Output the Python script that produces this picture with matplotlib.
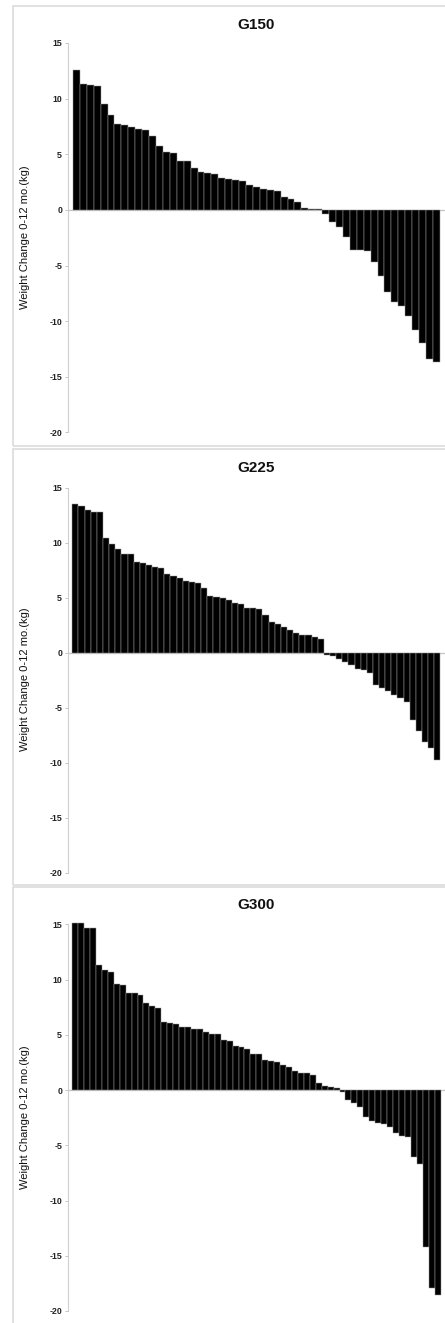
import matplotlib
matplotlib.use("Agg")
import matplotlib.pyplot as plt
from matplotlib.patches import Rectangle

plt.rcParams["font.family"] = ["Liberation Sans", "DejaVu Sans"]
plt.rcParams["axes.unicode_minus"] = False

# weight change 0-12 months (kg), one bar per subject, sorted high to low
g150 = [12.6, 11.3, 11.2, 11.1, 9.5, 8.55, 7.75, 7.65, 7.45, 7.25, 7.15, 6.6, 5.7,
        5.2, 5.1, 4.4, 4.4, 3.75, 3.4, 3.35, 3.2, 2.85, 2.8, 2.65, 2.6, 2.2, 2.1,
        1.9, 1.8, 1.7, 1.2, 1.0, 0.75, 0.2, 0.1, 0.1,
        -0.4, -1.05, -1.55, -2.4, -3.6, -3.6, -3.7, -4.7, -5.9, -7.4, -8.3, -8.6,
        -9.5, -10.8, -12.0, -13.4, -13.7]
g225 = [13.5, 13.3, 13.0, 12.8, 12.8, 10.45, 9.9, 9.45, 9.0, 8.95, 8.25, 8.2,
        7.95, 7.75, 7.7, 7.2, 7.0, 6.8, 6.55, 6.4, 6.3, 5.85, 5.15, 5.1, 4.95,
        4.75, 4.55, 4.4, 4.1, 4.1, 3.95, 3.45, 2.8, 2.6, 2.3, 2.05, 1.75, 1.65,
        1.65, 1.4, 1.25,
        -0.25, -0.3, -0.55, -0.8, -1.15, -1.5, -1.6, -1.85, -2.9, -3.2, -3.45,
        -3.85, -4.15, -4.45, -6.1, -7.15, -8.1, -8.65, -9.75]
g300 = [15.15, 15.15, 14.7, 14.7, 11.3, 10.9, 10.65, 9.6, 9.55, 8.8, 8.75, 8.6,
        7.9, 7.6, 7.4, 6.15, 6.05, 6.0, 5.7, 5.7, 5.55, 5.5, 5.25, 5.1, 5.05,
        4.5, 4.4, 3.95, 3.85, 3.7, 3.3, 3.3, 2.7, 2.65, 2.5, 2.3, 2.1, 1.75,
        1.55, 1.55, 1.35, 0.6, 0.4, 0.3, 0.15,
        -0.2, -0.9, -1.2, -1.5, -2.4, -2.8, -2.95, -3.1, -3.35, -3.9, -4.2,
        -4.25, -6.1, -6.65, -14.25, -17.95, -18.55]

titles = ["G150", "G225", "G300"]
groups = [g150, g225, g300]
yticks = [15, 10, 5, 0, -5, -10, -15, -20]

W, H = 445, 1323
fig = plt.figure(figsize=(W / 100, H / 100), dpi=100)

# pixel layout: (y of 15 tick, y of -20 tick, title y, panel top, panel bottom)
layout = [(43, 432.5, 25, 6, 446),
          (487.7, 872.7, 468, 449, 885),
          (924.3, 1311, 905, 887, 1330)]

ax_left = 67.7
ylo, yhi = -20.2, 15.3

for title, vals, (y15, y20, ty, ptop, pbot) in zip(titles, groups, layout):
    fig.patches.append(Rectangle((12.5 / W, 1 - pbot / H), (W + 20 - 12.5) / W,
                                 (pbot - ptop) / H, transform=fig.transFigure,
                                 fill=False, edgecolor="#dcdcdc", linewidth=1.2))
    ppu = (y20 - y15) / 35.0
    top = y15 - (yhi - 15) * ppu
    bot = y20 + (-20 - ylo) * ppu
    ax = fig.add_axes([ax_left / W, 1 - bot / H, 1 - ax_left / W, (bot - top) / H])
    ax.patch.set_alpha(0)
    n = len(vals)
    ax.bar(range(n), vals, width=1.0, color="black", edgecolor="#9a9a9a", linewidth=0.35)
    ax.axhline(0, color="#c4c4c4", linewidth=0.9, zorder=0)
    ax.set_xlim(-0.5 - 0.75, n - 0.5 + 0.75)
    ax.set_ylim(ylo, yhi)
    ax.set_yticks(yticks)
    ax.set_yticklabels([str(t) for t in yticks], fontsize=6.3, color="#222222",
                       fontweight="bold")
    ax.tick_params(axis="y", length=2.5, width=0.6, color="#bbbbbb", pad=1.5)
    ax.set_xticks([])
    for s in ["top", "right", "bottom"]:
        ax.spines[s].set_visible(False)
    ax.spines["left"].set_color("#cfcfcf")
    ax.spines["left"].set_linewidth(0.8)
    ax.spines["left"].set_bounds(-20, 15)
    ax.set_ylabel("Weight Change 0-12 mo.(kg)", fontsize=8, color="#111111")
    ax.yaxis.set_label_coords((30 - ax_left) / (W - ax_left), 0.5)
    fig.text((ax_left + W) / 2 / W, 1 - ty / H, title, ha="center", va="center",
             fontsize=11, fontweight="bold", color="#111111")

fig.savefig("out.png", dpi=100)
